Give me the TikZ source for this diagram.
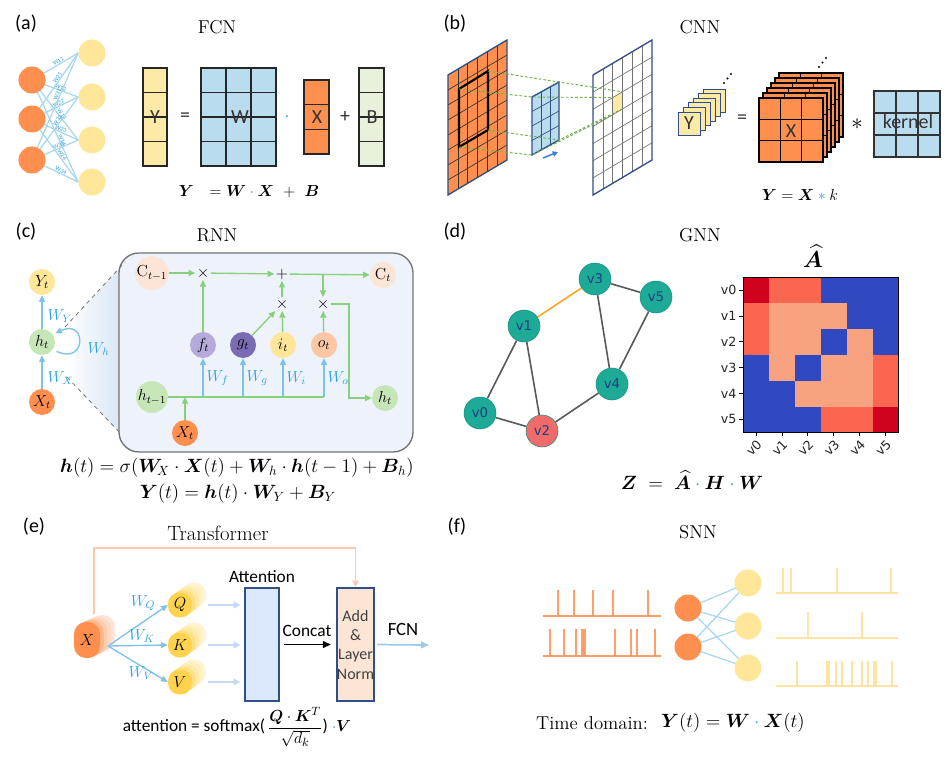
\documentclass[tikz,border=0pt]{standalone}
\usepackage{fontspec}
\usepackage{amsmath,bm}
\usetikzlibrary{arrows.meta,calc}
\newfontfamily\cali{Carlito}
\newfontfamily\dvs{DejaVu Sans}
\pgfdeclarelayer{bg}
\pgfsetlayers{bg,main}
\definecolor{cOr}{HTML}{FF8F4F}
\definecolor{cYe}{HTML}{FFE699}
\definecolor{cYbox}{HTML}{FFE9A6}
\definecolor{cBbox}{HTML}{B9DDEF}
\definecolor{cGbox}{HTML}{E7F1DC}
\definecolor{cWl}{HTML}{A6D6F0}
\definecolor{cWt}{HTML}{2FA4DF}
\definecolor{cGr}{HTML}{88D07C}
\definecolor{cBa}{HTML}{7CC3EA}
\definecolor{cDB}{HTML}{2F4F86}
\definecolor{cTeal}{HTML}{1DAA96}
\definecolor{cV2}{HTML}{F26B6B}
\definecolor{cNtext}{HTML}{1F3F7F}
\definecolor{cEdgeO}{HTML}{FFA726}
\definecolor{hDR}{HTML}{D0021E}
\definecolor{hR}{HTML}{FA6650}
\definecolor{hS}{HTML}{F9A27F}
\definecolor{hB}{HTML}{3049C0}
\definecolor{cPeach}{HTML}{FCE4D6}
\definecolor{cLG}{HTML}{C6E6B8}
\definecolor{cLav}{HTML}{B7A9D9}
\definecolor{cPur}{HTML}{7A6BB3}
\definecolor{cOt}{HTML}{FCC7A5}
\definecolor{cBoxF}{HTML}{EEF2FA}
\definecolor{cFun}{HTML}{D6E4F5}
\definecolor{cAtt}{HTML}{DCE8FB}
\definecolor{cAdd}{HTML}{FCE5D5}
\definecolor{cFb}{HTML}{F8CBAD}
\definecolor{cLB}{HTML}{C5D8F5}
\definecolor{cFcn}{HTML}{9CC9E8}
\definecolor{cSo}{HTML}{FF9E6A}
\definecolor{cSy}{HTML}{FFE3A0}
\definecolor{cGd}{HTML}{6FAE48}
\definecolor{cArr}{HTML}{3A7FD5}
\definecolor{cTxt}{HTML}{333333}
\definecolor{cQ}{HTML}{FFD34E}

\newcommand{\bdot}{\mathbin{\textcolor{cWt}{\cdot}}}
\newcommand{\rectgrid}[8]{%
  \fill[#7] (#1,#2) rectangle (#3,#4);
  \foreach \gi in {1,...,#5}{\ifnum\gi<#5\relax \draw[#8] ({(#1)+((#3)-(#1))*\gi/#5},#2) -- ({(#1)+((#3)-(#1))*\gi/#5},#4);\fi}
  \foreach \gi in {1,...,#6}{\ifnum\gi<#6\relax \draw[#8] (#1,{(#2)+((#4)-(#2))*\gi/#6}) -- (#3,{(#2)+((#4)-(#2))*\gi/#6});\fi}
  \draw[#8] (#1,#2) rectangle (#3,#4);
}
\newcommand{\skewgrid}[9]{%
  \fill[#8] (#1,#2) -- ++(#3,-#4) -- ++(0,#5) -- ++(-#3,#4) -- cycle;
  \foreach \gi in {1,...,#6}{\ifnum\gi<#6\relax \draw[#9] ({#1+#3*\gi/#6},{#2-#4*\gi/#6}) -- ++(0,#5);\fi}
  \foreach \gi in {1,...,#7}{\ifnum\gi<#7\relax \draw[#9] (#1,{#2+#5*\gi/#7}) -- ++(#3,-#4);\fi}
}

\tikzset{
 lab/.style={font=\cali\fontsize{15}{17}\selectfont},
 ttl/.style={font=\fontsize{14}{16}\selectfont},
 neur/.style={circle, inner sep=0pt, minimum size=20.25pt},
 oneur/.style={neur, fill=cOr},
 yneur/.style={neur, fill=cYe},
 wline/.style={draw=cWl, line width=0.9pt},
 wlab/.style={font=\cali\fontsize{4.5}{5}\selectfont, text=cWt, inner sep=0.2pt, sloped},
 mtxt/.style={font=\cali\fontsize{15}{17}\selectfont, text=cTxt},
 eq/.style={font=\fontsize{12.5}{15}\selectfont},
 gline/.style={black!85, line width=0.8pt},
 gdash/.style={draw=cGd, dash pattern=on 2pt off 1.5pt, line width=0.7pt},
 rn/.style={circle, inner sep=0pt, minimum size=19.5pt, font=\fontsize{12}{13}\selectfont},
 op/.style={inner sep=1pt, font=\fontsize{13}{13}\selectfont},
 wt/.style={text=cWt, font=\fontsize{11.5}{12}\selectfont, inner sep=1pt},
 garrow/.style={draw=cGr, line width=1pt, -{Triangle[length=5pt,width=4.5pt]}},
 barrow/.style={draw=cBa, line width=1pt, -{Triangle[length=5pt,width=4.5pt]}},
 gnode/.style={circle, fill=cTeal, draw=cTeal!85!black, line width=0.4pt, minimum size=24pt, inner sep=0pt, text=cNtext, font=\dvs\fontsize{10}{12}\selectfont},
 gedge/.style={draw=black!65, line width=1.2pt},
 tick/.style={font=\dvs\fontsize{9.5}{11}\selectfont, text=black!85, inner sep=1pt},
 capn/.style={rectangle, inner sep=0pt},
 lbarrow/.style={draw=cLB, line width=1.3pt, -{Triangle[length=5pt,width=5pt]}},
 spo/.style={draw=cSo, line width=1pt},
 spy/.style={draw=cSy, line width=1pt},
}

\begin{document}
\begin{tikzpicture}[x=0.75pt,y=-0.75pt]
\useasboundingbox (0,0) rectangle (952,756);
\begin{pgfonlayer}{bg}
\fill[white] (0,0) rectangle (952,756);
\end{pgfonlayer}

% ================= (a) FCN =================
\node[lab] (la) at (26,24) {(a)};
\node[ttl] (ta) at (217,27) {FCN};
\node[oneur] (ao1) at (32,80) {};
\node[oneur] (ao2) at (32,119) {};
\node[oneur] (ao3) at (32,160) {};
\node[yneur] (ay1) at (92,53) {};
\node[yneur] (ay2) at (92,97) {};
\node[yneur] (ay3) at (92,140) {};
\node[yneur] (ay4) at (92,182) {};
\begin{pgfonlayer}{bg}
\foreach \i in {1,2,3}{\foreach \j in {1,2,3,4}{
  \draw[wline] (ao\i.center) -- (ay\j.west) node[wlab, pos=0.6, above] {W\i\j};}}
\end{pgfonlayer}
\rectgrid{143}{68}{167}{166}{1}{4}{cYbox}{gline}
\node[mtxt] (mY) at (155,117) {Y};
\node[mtxt] (eqa) at (185,117) {=};
\rectgrid{201}{68}{276}{166}{3}{4}{cBbox}{gline}
\node[mtxt] (mW) at (240,117) {W};
\node[text=cWt, font=\fontsize{14}{14}\selectfont] (dota) at (287,117) {$\cdot$};
\rectgrid{304}{80}{329}{154}{1}{3}{cOr}{gline}
\node[mtxt] (mX) at (317,117) {X};
\node[mtxt] (pla) at (345,117) {+};
\rectgrid{359}{68}{384}{166}{1}{4}{cGbox}{gline}
\node[mtxt] (mB) at (372,117) {B};
\node[eq, font=\fontsize{13}{15}\selectfont] (eqA) at (249,192) {$\bm{Y}\ \ = \bm{W}\bdot\bm{X}\ +\ \bm{B}$};

% ================= (b) CNN =================
\node[lab] (lb) at (455,24) {(b)};
\node[ttl] (tb) at (700,27) {CNN};
\skewgrid{448}{75}{59}{35}{120}{6}{8}{cOr}{black!80, line width=0.5pt}
\draw[cDB, line width=1pt] (448,75) -- ++(59,-35) -- ++(0,120) -- ++(-59,35) -- cycle;
\draw[black, line width=1.6pt] (459,89) -- (488,71) -- (488,130) -- (459,147) -- cycle;
% kernel
\skewgrid{532}{97}{27}{15}{58}{3}{4}{cBbox}{cDB, line width=0.5pt}
\draw[cDB, line width=1pt] (532,97) -- ++(27,-15) -- ++(0,58) -- ++(-27,15) -- cycle;
% output grid
\fill[cYbox] (612.7,97.6) -- (622.5,91.8) -- (622.5,108.9) -- (612.7,114.8) -- cycle;
\skewgrid{593}{75}{59}{35}{120}{6}{7}{fill=none}{black!55, line width=0.5pt}
\draw[cDB, line width=1pt] (593,75) -- ++(59,-35) -- ++(0,120) -- ++(-59,35) -- cycle;
\coordinate (rTL) at (459,89); \coordinate (rTR) at (488,71);
\coordinate (rBR) at (488,130); \coordinate (rBL) at (459,147);
\coordinate (kTL) at (532,97); \coordinate (kTR) at (559,82);
\coordinate (kBR) at (559,140); \coordinate (kBL) at (532,155);
\coordinate (yTL) at (612.7,97.6); \coordinate (yTR) at (622.5,91.8);
\coordinate (yBR) at (622.5,108.9); \coordinate (yBL) at (612.7,114.8);
\draw[gdash] (rTL) -- (kTL) -- (yTL);
\draw[gdash] (rTR) -- (kTR) -- (yTR);
\draw[gdash] (rBR) -- (kBR) -- (yBR);
\draw[gdash] (rBL) -- (kBL) -- (yBL);
\coordinate (ba1) at (543,158); \coordinate (ba2) at (558,152);
\draw[cArr, line width=1.1pt, -{Triangle[length=4pt,width=4pt]}] (ba1) -- (ba2);
% Y stack
\foreach \L in {5,4,...,1}{\draw[fill=cYbox, draw=cDB, line width=0.7pt] ({678+5*\L},{112-4.6*\L}) rectangle ++(22,23);}
\node[draw=cDB, fill=cYbox, line width=0.7pt, minimum width=16.5pt, minimum height=17.25pt, inner sep=0pt, mtxt] (Ys) at (689,123.5) {Y};
\fill (724,83) circle (0.8pt); \fill (727.5,78.5) circle (0.8pt); \fill (731,74) circle (0.8pt);
\node[mtxt] (eqb) at (742,119) {=};
% X cube
\foreach \L in {5,4,...,0}{%
  \pgfmathsetmacro\ax{759+4*\L}\pgfmathsetmacro\ay{98-5*\L}%
  \pgfmathsetmacro\bx{823+4*\L}\pgfmathsetmacro\by{162-5*\L}%
  \rectgrid{\ax}{\ay}{\bx}{\by}{3}{3}{cOr}{black, line width=0.8pt}}
\node[mtxt] (Xc) at (791,131) {X};
\fill (819,67) circle (0.8pt); \fill (822.5,62.5) circle (0.8pt); \fill (826,58) circle (0.8pt);
\node[font=\fontsize{17}{17}\selectfont] (stb) at (857,124) {$\ast$};
\rectgrid{874}{91}{940}{157}{3}{3}{cBbox}{black!80, line width=0.8pt}
\node[mtxt] (kt) at (908,122) {kernel};
\node[eq, font=\fontsize{13}{15}\selectfont] (eqB) at (800,195) {$\bm{Y} = \bm{X}\mathbin{\textcolor{cWt}{\ast}} k$};

% ================= (c) RNN =================
\node[lab] (lc) at (26,232) {(c)};
\node[ttl] (tc) at (217,235) {RNN};
\coordinate (fu1) at (65,327); \coordinate (fu2) at (125,262);
\coordinate (fu3) at (121,434); \coordinate (fu4) at (67,377);
\shade[left color=white, right color=cFun] (fu1) -- (fu2) -- (fu3) -- (fu4) -- cycle;
\node[draw=black!55, fill=cBoxF, rounded corners=15pt, line width=1pt, minimum width=220.5pt, minimum height=149.25pt] (box) at (266,352.5) {};
\draw[black!55, dashed, line width=0.6pt] (fu1) -- (fu2);
\draw[black!55, dashed, line width=0.6pt] (fu4) -- (fu3);
\node[rn, fill=cYe] (Yt) at (42,282) {$Y_t$};
\node[rn, fill=cLG] (ht) at (42,342) {$h_t$};
\node[rn, fill=cOr] (Xt) at (42,402) {$X_t$};
\draw[barrow] (Xt) -- (ht);
\draw[barrow] (ht) -- (Yt);
\node[wt, anchor=west] (wy) at (46,316) {$W_Y$};
\node[wt, anchor=west] (wx) at (46,378) {$W_X$};
\draw[barrow, shorten <=3pt, shorten >=2pt] (ht.-35) .. controls +(34,16) and +(34,-16) .. (ht.35);
\node[wt, anchor=west] (wh) at (86,349) {$W_h$};
% inside
\node[rn, fill=cPeach] (Ct1) at (152,273) {$\mathrm{C}_{t-1}$};
\node[op] (x1) at (203,273) {$\times$};
\node[op] (plus) at (282,274) {$+$};
\node[rn, fill=cPeach] (Ct) at (383,275) {$\mathrm{C}_{t}$};
\node[op] (x2) at (282,304) {$\times$};
\node[op] (x3) at (323,304) {$\times$};
\node[rn, fill=cLav] (ft) at (203,345) {$f_t$};
\node[rn, fill=cPur] (gt) at (243,345) {$g_t$};
\node[rn, fill=cYe] (it) at (283,345) {$i_t$};
\node[rn, fill=cOt] (ot) at (324,345) {$o_t$};
\node[rn, fill=cLG] (ht1) at (152,397) {$h_{t-1}$};
\node[rn, fill=cLG] (htn) at (385,398) {$h_t$};
\node[rn, fill=cOr] (Xtc) at (185,433) {$X_t$};
\coordinate (bx) at (185,397); \coordinate (bf) at (203,397);
\coordinate (bg) at (243,397); \coordinate (bi) at (283,397);
\coordinate (bo) at (324,397);
\draw[cGr, line width=1pt] (ht1.east) -- (bo);
\draw[barrow] (bf) -- (ft);
\draw[barrow] (bg) -- (gt);
\draw[barrow] (bi) -- (it);
\draw[barrow] (bo) -- (ot);
\node[wt, anchor=west] (wf) at (205,378) {$W_f$};
\node[wt, anchor=west] (wg) at (245,378) {$W_g$};
\node[wt, anchor=west] (wi) at (285,378) {$W_i$};
\node[wt, anchor=west] (wo) at (326,378) {$W_o$};
\draw[garrow] (Xtc) -- (bx);
\draw[garrow] (Ct1) -- (x1);
\draw[garrow] (x1) -- (plus);
\draw[garrow] (plus) -- (Ct);
\draw[garrow] (ft) -- (x1);
\draw[garrow] (gt) -- (x2);
\draw[garrow] (it) -- (x2);
\draw[garrow] (x2) -- (plus);
\coordinate (tap) at (323,274);
\draw[garrow] (tap) -- (x3);
\draw[garrow] (ot) -- (x3);
\coordinate (x3r) at (349,304);
\draw[garrow] (x3) -- (x3r) |- (htn);
\node[eq, font=\fontsize{14}{16}\selectfont] (eqC1) at (237,468) {$\bm{h}(t) = \sigma(\bm{W}_{\!X}\cdot\bm{X}(t) + \bm{W}_h\cdot\bm{h}(t-1) + \bm{B}_h)$};
\node[eq, font=\fontsize{14}{16}\selectfont] (eqC2) at (238,494) {$\bm{Y}(t) = \bm{h}(t)\cdot\bm{W}_Y + \bm{B}_Y$};

% ================= (d) GNN =================
\node[lab] (ld) at (455,232) {(d)};
\node[ttl] (td) at (700,235) {GNN};
\node[gnode] (v3) at (595,279) {v3};
\node[gnode] (v5) at (656,297) {v5};
\node[gnode] (v1) at (524,326) {v1};
\node[gnode] (v4) at (612,384) {v4};
\node[gnode] (v0) at (480,413) {v0};
\node[gnode, fill=cV2] (v2) at (542,431) {v2};
\begin{pgfonlayer}{bg}
\draw[gedge, draw=cEdgeO] (v1) -- (v3);
\draw[gedge] (v3) -- (v5);
\draw[gedge] (v3) -- (v4);
\draw[gedge] (v5) -- (v4);
\draw[gedge] (v1) -- (v0);
\draw[gedge] (v1) -- (v2);
\draw[gedge] (v0) -- (v2);
\draw[gedge] (v2) -- (v4);
\end{pgfonlayer}
\foreach \row [count=\r from 0] in {{hDR,hR,hR,hB,hB,hB},{hR,hS,hS,hS,hB,hB},{hR,hS,hS,hB,hS,hB},{hB,hS,hB,hS,hS,hR},{hB,hB,hS,hS,hS,hR},{hB,hB,hB,hR,hR,hDR}}{
  \foreach \col [count=\c from 0] in \row {
    \fill[\col] ({743+25.9*\c},{277+25.9*\r}) rectangle ++(26,26);
  }
}
\draw[black, line width=0.6pt] (743,277) rectangle (898.4,432.4);
\foreach \i in {0,...,5}{
  \draw[line width=0.5pt] (739,{277+25.9*(\i+0.5)}) -- (743,{277+25.9*(\i+0.5)});
  \node[tick, anchor=east] (yl\i) at (738,{277+25.9*(\i+0.5)}) {v\i};
  \draw[line width=0.5pt] ({743+25.9*(\i+0.5)},432.4) -- ({743+25.9*(\i+0.5)},436.4);
  \node[tick, anchor=north east, rotate=45] (xl\i) at ({743+25.9*(\i+0.5)},437) {v\i};
}
\node[font=\fontsize{18}{18}\selectfont, inner sep=0pt] (ahat) at (813,256) {$\widehat{\bm{A}}$};
\node[eq, font=\fontsize{13.5}{15}\selectfont] (eqD) at (692,480) {$\bm{Z}\ =\ \widehat{\bm{A}}\bdot\bm{H}\bdot\bm{W}$};

% ================= (e) Transformer =================
\node[lab] (le) at (34,527) {(e)};
\node[ttl, font=\fontsize{15.5}{17}\selectfont] (te) at (218,533) {Transformer};
\foreach \L/\c in {4/22,3/32,2/45,1/65}{\fill[cOr!\c, rounded corners=9pt] ({74+3.75*\L},{622-1.75*\L}) rectangle ++(26,36);}
\node[capn, fill=cOr, rounded corners=9pt, minimum width=19.5pt, minimum height=27pt, font=\fontsize{12}{13}\selectfont] (Xf) at (87,640) {$X$};
\foreach \yy/\nm in {605/Q,645/K,682/V}{
  \foreach \L/\c in {4/25,3/35,2/50,1/70}{\fill[cQ!\c, rounded corners=8.5pt] ({168+3.5*\L},{\yy-12.5-2.5*\L}) rectangle ++(24,25);}
}
\node[capn, fill=cQ, rounded corners=8.5pt, minimum width=18pt, minimum height=18.75pt, font=\fontsize{12}{13}\selectfont] (Qf) at (180,605) {$Q$};
\node[capn, fill=cQ, rounded corners=8.5pt, minimum width=18pt, minimum height=18.75pt, font=\fontsize{12}{13}\selectfont] (Kf) at (180,645) {$K$};
\node[capn, fill=cQ, rounded corners=8.5pt, minimum width=18pt, minimum height=18.75pt, font=\fontsize{12}{13}\selectfont] (Vf) at (180,682) {$V$};
\coordinate (xs) at (108,646);
\draw[barrow] (xs) -- (Qf.west);
\draw[barrow] (xs) -- (Kf.west);
\draw[barrow] (xs) -- (Vf.west);
\node[wt] (wq) at (143,603) {$W_Q$};
\node[wt] (wk) at (142,636) {$W_K$};
\node[wt] (wv) at (141,673) {$W_V$};
\node[draw=cDB, fill=cAtt, line width=1pt, minimum width=25.5pt, minimum height=84.75pt, inner sep=0pt] (att) at (262,644.5) {};
\node[font=\cali\fontsize{13}{15}\selectfont] (attl) at (262,577) {Attention};
\draw[lbarrow, shorten >=3pt] ($(Qf.east)+(16,0)$) -- (att.west |- Qf);
\draw[lbarrow, shorten >=3pt] ($(Kf.east)+(16,0)$) -- (att.west |- Kf);
\draw[lbarrow, shorten >=3pt] ($(Vf.east)+(16,0)$) -- (att.west |- Vf);
\node[draw=cDB, fill=cAdd, line width=1pt, minimum width=26.25pt, minimum height=84.75pt, inner sep=0pt, align=center, font=\cali\fontsize{12}{14.5}\selectfont, text=black!75] (add) at (355.5,644.5) {Add\\\&\\Layer\\Norm};
\draw[black, line width=1.3pt, -{Triangle[length=6pt,width=5pt]}, shorten <=3pt, shorten >=4pt] (att.east) -- (add.west);
\node[font=\cali\fontsize{13}{15}\selectfont] (concat) at (307,631) {Concat};
\coordinate (xtop) at (94,614); \coordinate (fb) at (94,548);
\draw[draw=cFb, line width=1pt, -{Triangle[length=5pt,width=4.5pt]}] (xtop) -- (fb) -| (add.north);
\coordinate (fend) at (429,645);
\draw[draw=cFcn, line width=1.3pt, -{Triangle[length=6pt,width=5pt]}, shorten <=2pt] (add.east) -- (fend);
\node[font=\cali\fontsize{14}{16}\selectfont] (fcnl) at (403,629) {FCN};
\node[font=\cali\fontsize{13}{15}\selectfont] (eqE) at (237,727) {attention = softmax($\,\dfrac{\bm{Q}\cdot\bm{K}^T}{\sqrt{d_k}}$) $\bdot\bm{V}$};

% ================= (f) SNN =================
\node[lab] (lf) at (457,527) {(f)};
\node[ttl] (tf) at (698,532) {SNN};
\draw[spo] (543,616) -- (661,616);
\foreach \s in {558,574,593,613,648}{\draw[spo] (\s,616) -- (\s,590);}
\draw[spo] (543,656) -- (661,656);
\foreach \s in {550,564,576,582,583.5,585,615,631,637,655}{\draw[spo] (\s,656) -- (\s,629);}
\node[oneur] (so1) at (688,608) {};
\node[oneur] (so2) at (688,647) {};
\node[yneur] (sy1) at (748,583) {};
\node[yneur] (sy2) at (748,626) {};
\node[yneur] (sy3) at (748,668) {};
\begin{pgfonlayer}{bg}
\foreach \i in {1,2}{\foreach \j in {1,2,3}{\draw[wline] (so\i.center) -- (sy\j.center);}}
\end{pgfonlayer}
\draw[spy] (776,593) -- (898,593);
\foreach \s in {783,791,837,891}{\draw[spy] (\s,593) -- (\s,568);}
\draw[spy] (776,638) -- (898,638);
\foreach \s in {808,862}{\draw[spy] (\s,638) -- (\s,612);}
\draw[spy] (776,686) -- (898,686);
\foreach \s in {797,827,829,836,842,852,862,868,874,876,892}{\draw[spy] (\s,686) -- (\s,661);}
\node[ttl] (tdom) at (592,723) {Time domain:};
\node[eq, font=\fontsize{14}{16}\selectfont] (eqF) at (733,723) {$\bm{Y}(t) = \bm{W}\bdot\bm{X}(t)$};
\end{tikzpicture}
\end{document}
